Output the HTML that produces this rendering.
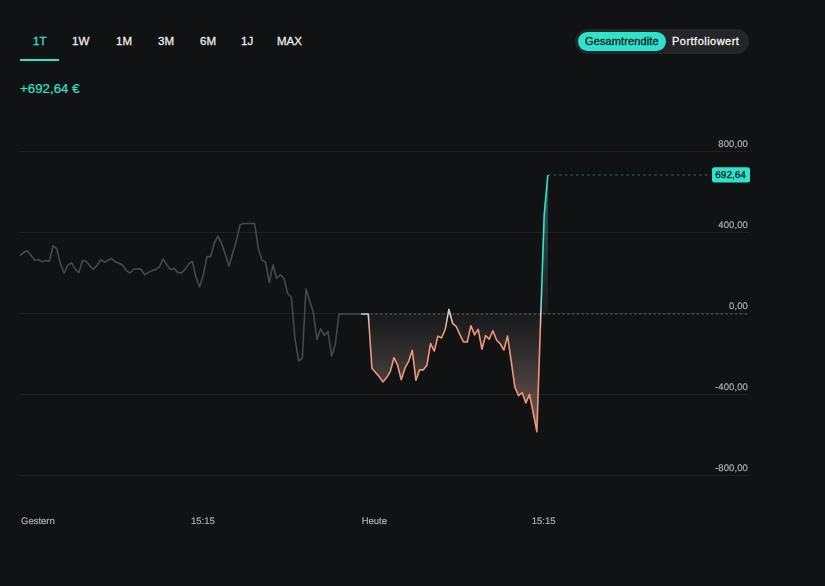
<!DOCTYPE html>
<html><head><meta charset="utf-8">
<style>
html,body{margin:0;padding:0;}
body{width:825px;height:586px;background:#111214;overflow:hidden;position:relative;font-family:"Liberation Sans",Arial,sans-serif;}
svg{position:absolute;left:0;top:0;}
.t{position:absolute;white-space:nowrap;}
.tab{top:34px;font-size:11.5px;line-height:14px;color:#ececec;font-weight:400;-webkit-text-stroke:0.3px currentColor;}
.tab.on{color:#2de3cc;}
#ul{position:absolute;left:20px;top:58.5px;width:39px;height:2.5px;background:#2de3cc;}
#val{left:20px;top:81px;font-size:13.3px;line-height:16px;color:#2de3cc;-webkit-text-stroke:0.2px #2de3cc;}
#tg{position:absolute;left:575px;top:29px;width:174px;height:25px;border-radius:12.5px;background:#232528;}
#tg .a{position:absolute;left:2.5px;top:2.5px;width:88px;height:19px;border-radius:9.5px;background:#2de3cc;}
#tg .t{top:6px;font-size:11px;line-height:13px;font-weight:400;-webkit-text-stroke:0.3px currentColor;}
.ax{font-size:9.5px;line-height:12px;color:#ababab;letter-spacing:0;text-rendering:geometricPrecision;-webkit-text-stroke:0.2px currentColor;}
.ax.r{text-align:right;width:80px;letter-spacing:0.1px;}
.gl{position:absolute;left:0;top:0;width:825px;height:586px;will-change:transform;}
</style></head><body>
<svg width="825" height="586" viewBox="0 0 825 586">
<defs>
<linearGradient id="lg" gradientUnits="userSpaceOnUse" x1="0" y1="174" x2="0" y2="432">
<stop offset="0" stop-color="#2de3cc"/>
<stop offset="0.4109" stop-color="#2de3cc"/>
<stop offset="0.5155" stop-color="#8ed6cc"/>
<stop offset="0.5426" stop-color="#d2d2d2"/>
<stop offset="0.6047" stop-color="#ee957c"/>
<stop offset="1" stop-color="#ee957c"/>
</linearGradient>
<linearGradient id="fg" gradientUnits="userSpaceOnUse" x1="0" y1="174" x2="0" y2="432">
<stop offset="0" stop-color="#2de3cc" stop-opacity="0.45"/>
<stop offset="0.5426" stop-color="#9a9a9c" stop-opacity="0.06"/>
<stop offset="1" stop-color="#ffb9a0" stop-opacity="0.45"/>
</linearGradient>
</defs>
<g stroke="#1f2022" stroke-width="1">
<line x1="20" y1="151.5" x2="749" y2="151.5"/>
<line x1="20" y1="232.5" x2="749" y2="232.5"/>
<line x1="20" y1="313.5" x2="749" y2="313.5"/>
<line x1="20" y1="394.5" x2="749" y2="394.5"/>
<line x1="20" y1="475.5" x2="749" y2="475.5"/>
</g>
<line x1="370.55" y1="314" x2="749" y2="314" stroke="#5e6062" stroke-width="1" stroke-dasharray="2.3 2.496"/>
<line x1="547.96" y1="175" x2="711" y2="175" stroke="#18514a" stroke-width="1.4" stroke-dasharray="2.5 3.1"/>
<path d="M360.95,314.0 L360.95,314.00 L364.61,314.00 L368.28,314.00 L371.94,368.20 L375.61,372.50 L379.27,376.80 L382.94,381.90 L386.60,377.60 L390.27,371.60 L393.93,357.70 L397.60,365.20 L401.26,379.80 L404.93,368.20 L408.59,361.40 L412.26,350.30 L415.92,380.20 L419.59,369.90 L423.25,369.90 L426.92,365.20 L430.58,343.50 L434.25,351.10 L437.91,336.10 L441.58,338.00 L445.24,329.30 L448.91,309.30 L452.57,323.30 L456.24,326.50 L459.90,334.60 L463.57,342.00 L467.23,342.00 L470.90,325.70 L474.56,334.90 L478.23,329.30 L481.89,349.20 L485.56,335.60 L489.22,339.20 L492.89,330.70 L496.55,340.00 L500.22,343.80 L503.88,350.00 L507.55,336.00 L511.21,361.10 L514.88,387.30 L518.54,395.60 L522.21,392.70 L525.87,402.90 L529.53,394.40 L533.20,412.80 L536.87,431.60 L540.53,322.00 L544.20,214.80 L547.86,175.00 L547.86,314.0 Z" fill="url(#fg)"/>
<polyline points="20.10,255.70 23.77,252.40 27.43,250.80 31.10,255.50 34.76,260.30 38.42,259.70 42.09,261.80 45.76,260.50 49.42,261.30 53.09,245.50 56.75,248.80 60.41,263.90 64.08,273.00 67.75,265.50 71.41,262.70 75.08,268.80 78.74,272.70 82.41,260.50 86.07,261.30 89.74,265.80 93.40,269.40 97.06,265.20 100.73,259.70 104.40,262.10 108.06,260.30 111.72,258.50 115.39,262.10 119.06,263.30 122.72,265.20 126.38,270.60 130.05,273.00 133.72,269.00 137.38,268.80 141.05,269.40 144.71,274.80 148.38,272.40 152.04,270.60 155.70,269.40 159.37,267.00 163.03,259.10 166.70,264.50 170.37,269.40 174.03,268.40 177.69,272.40 181.36,273.00 185.03,269.40 188.69,263.90 192.35,261.50 196.02,277.30 199.69,287.00 203.35,275.00 207.01,256.50 210.68,256.60 214.34,243.00 218.01,236.20 221.67,243.70 225.34,254.60 229.00,266.20 232.67,253.20 236.34,240.90 240.00,224.80 243.66,223.50 247.33,223.50 251.00,223.50 254.66,223.50 258.32,248.40 261.99,260.10 265.66,262.50 269.32,282.60 272.99,264.60 276.65,278.50 280.31,274.70 283.98,278.50 287.65,293.50 291.31,297.30 294.98,338.60 298.64,361.10 302.31,357.90 305.97,288.80 309.64,301.00 313.30,312.30 316.97,339.50 320.63,328.60 324.30,335.40 327.96,331.60 331.62,356.00 335.29,344.20 338.96,314.00 342.62,314.00 346.29,314.00 349.95,314.00 353.62,314.00 357.28,314.00 360.95,314.00" fill="none" stroke="#45494c" stroke-width="1.6" stroke-linejoin="round"/>
<polyline points="360.95,314.00 364.61,314.00 368.28,314.00 371.94,368.20 375.61,372.50 379.27,376.80 382.94,381.90 386.60,377.60 390.27,371.60 393.93,357.70 397.60,365.20 401.26,379.80 404.93,368.20 408.59,361.40 412.26,350.30 415.92,380.20 419.59,369.90 423.25,369.90 426.92,365.20 430.58,343.50 434.25,351.10 437.91,336.10 441.58,338.00 445.24,329.30 448.91,309.30 452.57,323.30 456.24,326.50 459.90,334.60 463.57,342.00 467.23,342.00 470.90,325.70 474.56,334.90 478.23,329.30 481.89,349.20 485.56,335.60 489.22,339.20 492.89,330.70 496.55,340.00 500.22,343.80 503.88,350.00 507.55,336.00 511.21,361.10 514.88,387.30 518.54,395.60 522.21,392.70 525.87,402.90 529.53,394.40 533.20,412.80 536.87,431.60 540.53,322.00 544.20,214.80 547.86,175.00" fill="none" stroke="url(#lg)" stroke-width="1.6" stroke-linejoin="round"/>
<rect x="712" y="167.2" width="38" height="15.3" rx="2.5" fill="#2de3cc"/>
</svg>
<div class="t tab on" style="left:33px">1T</div>
<div class="t tab" style="left:72px">1W</div>
<div class="t tab" style="left:116px">1M</div>
<div class="t tab" style="left:158px">3M</div>
<div class="t tab" style="left:200px">6M</div>
<div class="t tab" style="left:241px">1J</div>
<div class="t tab" style="left:277px">MAX</div>
<div id="ul"></div>
<div class="t" id="val">+692,64 €</div>
<div id="tg"><div class="a"></div><div class="t" style="left:10px;color:#0c1716;letter-spacing:0.12px">Gesamtrendite</div><div class="t" style="left:97px;color:#f4f4f4;letter-spacing:0.48px">Portfoliowert</div></div>
<div class="gl">
<div class="t ax r" style="left:668px;top:139.3px">800,00</div>
<div class="t ax r" style="left:668px;top:219.5px">400,00</div>
<div class="t ax r" style="left:668px;top:300.5px">0,00</div>
<div class="t ax r" style="left:668px;top:381.5px">-400,00</div>
<div class="t ax r" style="left:668px;top:462.5px">-800,00</div>
<div class="t ax" style="left:21px;top:516px">Gestern</div>
<div class="t ax" style="left:191px;top:516px">15:15</div>
<div class="t ax" style="left:361.7px;top:516px">Heute</div>
<div class="t ax" style="left:531.8px;top:516px">15:15</div>
<div class="t ax" style="left:715.3px;top:169.5px;font-size:10px;color:#0b1211;letter-spacing:0;-webkit-text-stroke:0.25px #0b1211">692,64</div>
</div>
</body></html>
